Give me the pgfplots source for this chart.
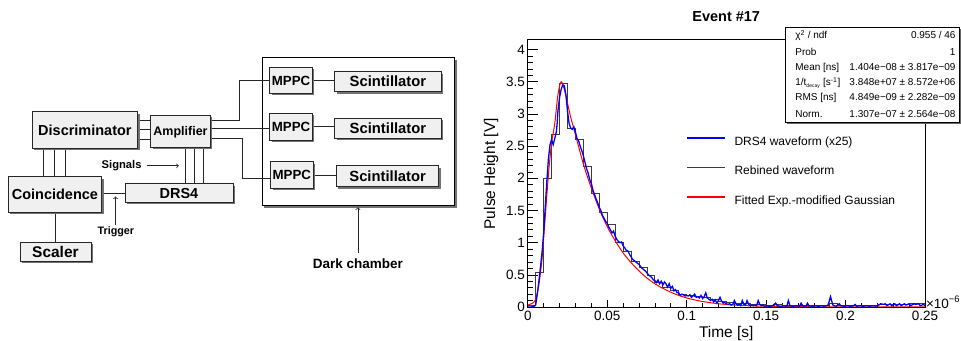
\documentclass[border=0pt]{standalone}
\usepackage{fontspec}
\setmainfont{Liberation Sans}
\usepackage{pgfplots}
\pgfplotsset{compat=1.18}
\definecolor{rootblue}{RGB}{0,0,255}
\definecolor{rootred}{RGB}{255,0,0}
\definecolor{rootgray}{RGB}{60,60,60}
\newcommand{\fs}[1]{\fontsize{#1}{#1}\selectfont}
\newcommand{\shbox}[6]{%
  \fill[black!55] (#1+2,#2+2) rectangle (#3+2,#4+2);
  \draw[black!85, fill=black!6, line width=0.7pt] (#1,#2) rectangle (#3,#4);
  \node[anchor=base, font=\bfseries\fs{#6}, inner sep=0pt] at ({(#1+#3)/2},{(#2+#4)/2+0.36*#6}) {#5};
}
\begin{document}
\begin{tikzpicture}
\begin{scope}[x=1pt,y=-1pt]
\path[use as bounding box] (0,0) rectangle (961,341);
% ---------- block diagram ----------
\fill[black!55] (264.7,59.7) rectangle (457,208);
\draw[fill=white, line width=1.1pt] (262.7,57.7) rectangle (455,206);
\begin{scope}[black!85, line width=0.8pt]
\foreach \yy in {120.7,130,140} \draw (137.7,\yy) -- (150.7,\yy);
\foreach \xx in {43.3,54,65.7} \draw (\xx,148.3) -- (\xx,176.7);
\foreach \xx in {185.7,194.3,203.3} \draw (\xx,147.3) -- (\xx,184);
\draw (101.7,194) -- (125,194);
\draw (55,212.7) -- (55,242.3);
\draw (210.7,120.7) -- (240,120.7) -- (240,80) -- (270,80);
\draw (210.7,128.3) -- (270,128.3);
\draw (210.7,139) -- (242.7,139) -- (242.7,178.3) -- (271,178.3);
\draw (312.7,80.5) -- (335,80.5);
\draw (312.7,127) -- (335,127);
\draw (313.3,175.5) -- (336.7,175.5);
\draw[->, >=to] (146.7,166) -- (179,166);
\draw[->, >=to] (115.7,225) -- (115.7,196.7);
\draw[->, >=to] (358.3,253) -- (358.3,207.5);
\end{scope}
\shbox{32.3}{111.7}{137.7}{148.3}{Discriminator}{14.5}
\shbox{150.7}{115}{210.7}{147.3}{Amplifier}{12.5}
\shbox{8.3}{176.7}{101.7}{212.7}{Coincidence}{14.5}
\shbox{125}{184}{233.3}{202.7}{DRS4}{14.5}
\shbox{20}{242.3}{91}{261.7}{Scaler}{15.5}
\shbox{270}{67.3}{312.7}{93.3}{MPPC}{13.3}
\shbox{270}{113.3}{312.7}{140}{MPPC}{13.3}
\shbox{271}{161.7}{313.3}{188.3}{MPPC}{13.3}
\shbox{335}{71.7}{441.7}{91.7}{Scintillator}{14.8}
\shbox{335}{118.3}{441.7}{138.3}{Scintillator}{14.8}
\shbox{336.7}{166}{439.3}{186.7}{Scintillator}{14.8}
\node[anchor=base, font=\bfseries\fs{11.2}, inner sep=0pt] at (121.7,168.3) {Signals};
\node[anchor=base, font=\bfseries\fs{10.8}, inner sep=0pt] at (116,235) {Trigger};
\node[anchor=base, font=\bfseries\fs{13.5}, inner sep=0pt] at (358.3,269) {Dark chamber};
\end{scope}
% ---------- waveform plot ----------
\pgfplotsset{wf/.style={at={(528.3pt,-307.3pt)}, anchor=south west,
  width=397.7pt, height=268pt, scale only axis,
  xmin=0, xmax=0.25, ymin=0, ymax=4.16,
  tick align=inside, axis line style={line width=0.8pt},
  every tick/.style={black, line width=0.6pt},
  scaled ticks=false,
  tick label style={font=\fs{13.5}, /pgf/number format/assume math mode=true,
     /pgf/number format/fixed, /pgf/number format/precision=2}}}
\begin{axis}[wf, ytick=\empty, xtick={0,0.05,0.1,0.15,0.2,0.25}, minor x tick num=4,
  xtick pos=bottom, major tick length=7pt, minor tick length=3.5pt,
  xticklabel style={anchor=north, inner sep=0pt, yshift=-4.4pt}]
\end{axis}
\begin{axis}[wf, xtick=\empty, ytick={0,0.5,...,4}, minor y tick num=4,
  ytick pos=left, major tick length=10.7pt, minor tick length=5.7pt,
  yticklabel style={anchor=east, inner sep=0pt, xshift=-2.6pt},
  legend style={at={(0.3983,0.638)}, anchor=north west, draw=none, fill=none,
     inner sep=0pt, row sep=17.5pt, font=\fs{12},
     nodes={inner sep=0pt, text height=9pt, text depth=3pt}},
  legend cell align=left,
  /tikz/every odd column/.append style={column sep=8.3pt},
  legend image code/.code={\draw[#1] (0pt,4.3pt) -- (38.3pt,4.3pt);}]
\addlegendimage{color=rootblue, line width=1.8pt}
\addlegendentry{DRS4 waveform (x25)}
\addlegendimage{color=rootgray, line width=1.8pt}
\addlegendentry{Rebined waveform}
\addlegendimage{color=rootred, line width=1.8pt}
\addlegendentry{Fitted Exp.-modified Gaussian}
% rebinned waveform
\addplot[draw=rootgray, line width=0.8pt, const plot mark left, forget plot] coordinates {
(0,0.02) (0.005,0.54) (0.010,2.00) (0.015,2.68) (0.020,3.47) (0.025,2.77)
(0.030,2.61) (0.035,2.18) (0.040,1.77) (0.045,1.47) (0.050,1.28) (0.055,1.01)
(0.060,0.86) (0.065,0.71) (0.070,0.61) (0.075,0.49) (0.080,0.38) (0.085,0.31)
(0.090,0.25) (0.095,0.20) (0.100,0.18) (0.105,0.17) (0.110,0.15) (0.115,0.12)
(0.120,0.09) (0.125,0.07) (0.130,0.06) (0.135,0.05) (0.140,0.04) (0.145,0.04)
(0.150,0.03) (0.155,0.04) (0.160,0.03) (0.165,0.03) (0.170,0.03) (0.175,0.02)
(0.180,0.02) (0.185,0.03) (0.190,0.05) (0.195,0.03) (0.200,0.02) (0.205,0.02)
(0.210,0.02) (0.215,0.03) (0.220,0.04) (0.225,0.04) (0.230,0.04) (0.235,0.04)
(0.240,0.05) (0.245,0.05) (0.250,0.05)};
% fitted exp-modified gaussian
\addplot[draw=rootred, line width=1pt, smooth, forget plot] coordinates {
(0,0.03) (0.003,0.06) (0.005,0.12) (0.007,0.35) (0.009,0.75) (0.011,1.40)
(0.013,2.05) (0.015,2.55) (0.017,2.85) (0.019,3.30) (0.021,3.50) (0.023,3.38)
(0.025,3.17) (0.027,2.95) (0.030,2.68) (0.033,2.40) (0.036,2.14) (0.040,1.85)
(0.045,1.52) (0.050,1.25) (0.055,1.03) (0.060,0.84) (0.065,0.69) (0.070,0.56)
(0.075,0.45) (0.080,0.36) (0.085,0.29) (0.090,0.23) (0.095,0.18) (0.100,0.14)
(0.105,0.11) (0.110,0.085) (0.120,0.05) (0.130,0.03) (0.140,0.018) (0.150,0.011)
(0.170,0.005) (0.200,0.002) (0.250,0.001)};
% DRS4 waveform
\addplot[draw=rootblue, line width=1.3pt, forget plot] coordinates {
(0.000,0.00) (0.002,0.00) (0.004,0.01) (0.005,0.03) (0.006,0.20) (0.007,0.40)
(0.008,0.62) (0.009,0.85) (0.010,1.15) (0.011,1.55) (0.012,1.95) (0.013,2.30)
(0.014,2.52) (0.015,2.60) (0.016,2.52) (0.017,2.62) (0.018,2.72) (0.0185,2.85)
(0.019,3.05) (0.020,3.25) (0.021,3.38) (0.022,3.45) (0.023,3.44) (0.024,3.30)
(0.025,3.05) (0.026,2.85) (0.027,2.78) (0.028,2.76) (0.029,2.80) (0.030,2.72)
(0.031,2.62) (0.032,2.58) (0.033,2.50) (0.034,2.43) (0.035,2.35) (0.036,2.25)
(0.037,2.15) (0.038,2.08) (0.039,1.98) (0.040,1.92) (0.041,1.82) (0.042,1.75)
(0.043,1.68) (0.044,1.62) (0.045,1.55) (0.046,1.50) (0.047,1.42) (0.048,1.38)
(0.049,1.33) (0.050,1.30) (0.051,1.24) (0.052,1.20) (0.053,1.15) (0.054,1.18)
(0.055,1.10) (0.056,1.05) (0.057,1.02) (0.058,1.00) (0.059,1.01) (0.060,0.95)
(0.061,0.92) (0.062,0.88) (0.063,0.87) (0.064,0.82) (0.065,0.78) (0.066,0.74)
(0.067,0.72) (0.068,0.70) (0.069,0.68) (0.070,0.66) (0.071,0.63) (0.072,0.60)
(0.073,0.58) (0.074,0.56) (0.075,0.53) (0.076,0.50) (0.077,0.48) (0.078,0.46)
(0.079,0.42) (0.080,0.41) (0.081,0.38) (0.082,0.42) (0.083,0.36) (0.084,0.40)
(0.085,0.34) (0.086,0.39) (0.087,0.36) (0.088,0.31) (0.089,0.36) (0.090,0.29)
(0.091,0.32) (0.092,0.25) (0.093,0.27) (0.094,0.22) (0.095,0.22) (0.096,0.18)
(0.097,0.20) (0.098,0.19) (0.099,0.17) (0.100,0.18) (0.101,0.17) (0.102,0.19)
(0.103,0.15) (0.104,0.17) (0.105,0.20) (0.106,0.15) (0.107,0.16) (0.108,0.14)
(0.109,0.18) (0.110,0.13) (0.111,0.16) (0.112,0.22) (0.113,0.14) (0.114,0.12)
(0.115,0.10) (0.116,0.12) (0.117,0.08) (0.118,0.11) (0.119,0.06) (0.120,0.10)
(0.121,0.15) (0.122,0.09) (0.123,0.06) (0.124,0.07) (0.125,0.05) (0.126,0.04)
(0.127,0.05) (0.128,0.03) (0.129,0.04) (0.130,0.10) (0.131,0.05) (0.132,0.03)
(0.133,0.04) (0.134,0.02) (0.135,0.10) (0.136,0.04) (0.137,0.03) (0.138,0.10)
(0.139,0.04) (0.140,0.02) (0.141,0.03) (0.142,0.02) (0.143,0.03) (0.144,0.02)
(0.145,0.10) (0.146,0.04) (0.147,0.02) (0.148,0.03) (0.149,0.01) (0.150,0.02)
(0.152,0.01) (0.154,0.02) (0.156,0.06) (0.157,0.02) (0.159,0.01) (0.161,0.02)
(0.163,0.01) (0.164,0.10) (0.165,0.02) (0.167,0.01) (0.169,0.02) (0.171,0.01)
(0.172,0.06) (0.173,0.02) (0.175,0.01) (0.176,0.06) (0.177,0.02) (0.179,0.01)
(0.181,0.02) (0.183,0.01) (0.185,0.02) (0.187,0.01) (0.189,0.03) (0.1905,0.16)
(0.192,0.03) (0.194,0.01) (0.196,0.05) (0.197,0.02) (0.199,0.01) (0.201,0.02)
(0.203,0.01) (0.205,0.02) (0.206,0.04) (0.207,0.01) (0.209,0.02) (0.211,0.01)
(0.213,0.02) (0.215,0.01) (0.217,0.02) (0.219,0.01) (0.221,0.03) (0.222,0.05)
(0.224,0.04) (0.225,0.05) (0.226,0.02) (0.228,0.05) (0.229,0.02) (0.231,0.05)
(0.232,0.02) (0.234,0.05) (0.235,0.02) (0.237,0.05) (0.238,0.03) (0.240,0.05)
(0.241,0.02) (0.243,0.05) (0.244,0.04) (0.246,0.05) (0.247,0.02) (0.249,0.04)
(0.250,0.02)};
\end{axis}
\begin{scope}[x=1pt,y=-1pt]
% labels
\node[font=\bfseries\fs{14.5}] at (727,16.7) {Event \#17};
\node[rotate=90, font=\fs{15.5}] at (491.7,174) {Pulse Height [V]};
\node[anchor=base, font=\fs{15.5}, inner sep=0pt] at (727,337.5) {Time [s]};
\node[anchor=base west, font=\fs{13.5}, inner sep=0pt] at (926.8,308.5) {×10\textsuperscript{−6}};
% stats box
\fill[black!60] (788.2,29.4) rectangle (962,123.8);
\draw[fill=white, line width=0.6pt] (786.3,27.7) rectangle (960,122);
\foreach \yy/\lt/\rt in {35.3/{χ\textsuperscript{2} / ndf}/{0.955 / 46},
   52/{Prob}/{1},
   67.3/{Mean [ns]}/{1.404e−08 ± 3.817e−09},
   82.3/{1/t\textsubscript{\fs{5}decay} [s\textsuperscript{-1}]}/{3.848e+07 ± 8.572e+06},
   97.3/{RMS [ns]}/{4.849e−09 ± 2.282e−09},
   114/{Norm.}/{1.307e−07 ± 2.564e−08}}{
  \node[anchor=base west, font=\fs{10}, inner sep=0pt] at (796,\yy+3.6) {\lt};
  \node[anchor=base east, font=\fs{10}, inner sep=0pt] at (956.7,\yy+3.6) {\rt};
}
\end{scope}
\end{tikzpicture}
\end{document}
